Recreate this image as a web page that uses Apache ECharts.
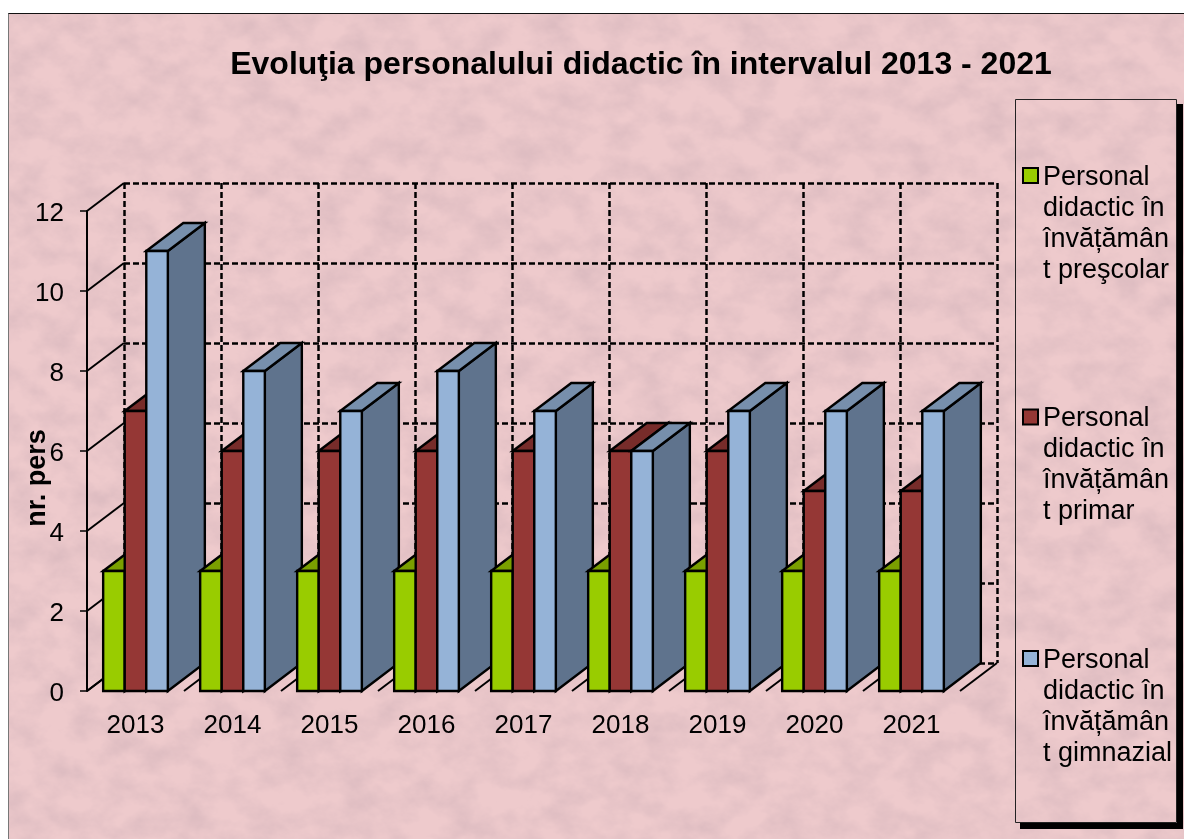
<!DOCTYPE html>
<html lang="ro" style="height: 100%">
<head>
    <meta charset="utf-8">
    <style>
        html, body { margin: 0; height: 100%; background: #fff; overflow: hidden; }
        #paper { position: absolute; left: 8px; top: 13px; width: 1176px; height: 826px; display: block; }
        #edge { position: absolute; left: 8px; top: 13px; right: 0; bottom: 0; border-left: 1px solid #777; border-top: 1px solid #111; }
        #container { position: absolute; left: 0; top: 0; width: 1184px; height: 839px; }
    </style>
</head>
<body>
<!-- marble paper behind the chart -->
<svg id="paper" xmlns="http://www.w3.org/2000/svg">
    <filter id="marble" x="0" y="0" width="100%" height="100%">
        <feTurbulence type="fractalNoise" baseFrequency="0.03 0.04" numOctaves="5" seed="7"/>
        <feColorMatrix type="matrix" values="0 0 0 0 0.72  0 0 0 0 0.50  0 0 0 0 0.53  1.8 0 0 0 -0.62"/>
    </filter>
    <rect width="100%" height="100%" fill="#eecacc"/>
    <rect width="100%" height="100%" filter="url(#marble)"/>
</svg>
<div id="edge"></div>
<div id="container"></div>

<script type="text/javascript" src="https://fastly.jsdelivr.net/npm/echarts@6/dist/echarts.min.js"></script>
<script type="text/javascript">
    var titleText = 'Evoluţia personalului didactic în intervalul 2013 - 2021';
    var yAxisName = 'nr. pers';
    var years = ['2013', '2014', '2015', '2016', '2017', '2018', '2019', '2020', '2021'];
    var yTicks = [0, 2, 4, 6, 8, 10, 12];
    var boundaries = [0, 1, 2, 3, 4, 5, 6, 7, 8, 9];

    var preschool = [3, 3, 3, 3, 3, 3, 3, 3, 3];
    var primary = [7, 6, 6, 6, 6, 6, 6, 5, 5];
    var middle = [11, 8, 7, 8, 7, 6, 7, 7, 7];

    var seriesNames = [
        'Personal didactic în învățământ preşcolar',
        'Personal didactic în învățământ primar',
        'Personal didactic în învățământ gimnazial'
    ];
    var legendLabels = [
        'Personal\ndidactic în\nînvățămân\nt preşcolar',
        'Personal\ndidactic în\nînvățămân\nt primar',
        'Personal\ndidactic în\nînvățămân\nt gimnazial'
    ];
    var faceColors = [
        { front: '#99CC00', top: '#7A9F00', side: '#648200' },
        { front: '#953735', top: '#772C2A', side: '#5F2322' },
        { front: '#95B3D7', top: '#778FAC', side: '#5F738D' }
    ];

    // the 3D look: how far the back wall is pushed away from the front plane
    var DEPTH_X = 37;
    var DEPTH_Y = -28;

    var dom = document.getElementById('container');
    var myChart = echarts.init(dom, null, { renderer: 'canvas' });

    function face(points, fill, z2) {
        return {
            type: 'polygon',
            z2: z2,
            shape: { points: points },
            style: { fill: fill, stroke: '#000', lineWidth: 2.4, lineJoin: 'miter' }
        };
    }

    function barRenderer(seriesIndex) {
        return function (params, api) {
            var cat = api.value(0);
            var band = api.size([1, 0])[0];
            var w = band / 4.5;
            var c = api.coord([cat, api.value(1)]);
            var base = api.coord([cat, 0])[1];
            var x0 = c[0] - 1.5 * w + seriesIndex * w;
            var x1 = x0 + w;
            var y = c[1];
            var z2 = cat * 10 + seriesIndex * 3;
            var col = faceColors[seriesIndex];
            return {
                type: 'group',
                children: [
                    face([[x1, y], [x1 + DEPTH_X, y + DEPTH_Y], [x1 + DEPTH_X, base + DEPTH_Y], [x1, base]], col.side, z2),
                    face([[x0, y], [x0 + DEPTH_X, y + DEPTH_Y], [x1 + DEPTH_X, y + DEPTH_Y], [x1, y]], col.top, z2 + 1),
                    face([[x0, y], [x1, y], [x1, base], [x0, base]], col.front, z2 + 2)
                ]
            };
        };
    }

    function slant(x, y) {
        return {
            type: 'line',
            shape: { x1: x, y1: y, x2: x + DEPTH_X, y2: y + DEPTH_Y },
            style: { stroke: '#000', lineWidth: 2 }
        };
    }

    // left wall lines, from each y tick to the back wall
    function wallRenderer(params, api) {
        var band = api.size([1, 0])[0];
        var c = api.coord([0, api.value(0)]);
        return slant(c[0] - band / 2, c[1]);
    }

    // floor lines at the category boundaries
    function floorRenderer(params, api) {
        var band = api.size([1, 0])[0];
        var c = api.coord([0, 0]);
        return slant(c[0] - band / 2 + api.value(0) * band, c[1]);
    }

    function legendGraphics() {
        var out = [
            { type: 'rect', shape: { x: 1177, y: 104, width: 6, height: 725 }, style: { fill: '#000' } },
            { type: 'rect', shape: { x: 1020, y: 823, width: 163, height: 6 }, style: { fill: '#000' } },
            { type: 'rect', shape: { x: 1015.5, y: 99.5, width: 161, height: 723 }, style: { fill: 'transparent', stroke: '#222', lineWidth: 1 } }
        ];
        var markerTops = [168, 409.5, 651];
        legendLabels.forEach(function (label, i) {
            out.push({
                type: 'rect',
                shape: { x: 1023, y: markerTops[i], width: 15, height: 15 },
                style: { fill: faceColors[i].front, stroke: '#000', lineWidth: 2 }
            });
            out.push({
                type: 'text',
                x: 1043,
                y: markerTops[i] - 6,
                style: {
                    text: label,
                    fill: '#000',
                    font: '27px "Liberation Sans"',
                    lineHeight: 31,
                    verticalAlign: 'top'
                }
            });
        });
        return out;
    }

    var option = {
        backgroundColor: 'transparent',
        animation: false,
        textStyle: { fontFamily: 'Liberation Sans' },
        title: {
            text: titleText,
            left: 636,
            top: 44,
            textAlign: 'center',
            textStyle: { fontFamily: 'Liberation Sans', fontWeight: 'bold', fontSize: 32, color: '#000' }
        },
        grid: [
            { left: 87, top: 211, width: 873, height: 480, outerBoundsMode: 'none' },
            { left: 124, top: 183, width: 873, height: 480, outerBoundsMode: 'none' }
        ],
        xAxis: [
            {
                type: 'category',
                gridIndex: 0,
                data: years,
                axisLine: { show: false },
                axisTick: { show: false },
                axisLabel: { interval: 0, margin: 22, fontSize: 26, color: '#000' }
            },
            {
                type: 'category',
                gridIndex: 1,
                data: years,
                axisLine: { show: false },
                axisTick: { show: false },
                axisLabel: { show: false },
                splitLine: {
                    show: true,
                    interval: 0,
                    lineStyle: { color: '#000', width: 2.5, type: [6, 3] }
                }
            }
        ],
        yAxis: [
            {
                type: 'value',
                gridIndex: 0,
                min: 0,
                max: 12,
                interval: 2,
                name: yAxisName,
                nameLocation: 'middle',
                nameGap: 36,
                nameMoveOverlap: false,
                nameTextStyle: { fontSize: 27, fontWeight: 'bold', color: '#000', padding: [0, 54, 0, 0] },
                axisLine: { show: true, lineStyle: { color: '#000', width: 2 } },
                axisTick: { show: true, length: 7, lineStyle: { color: '#000', width: 1.5 } },
                axisLabel: { margin: 23, fontSize: 26, color: '#000', verticalAlign: 'top', lineHeight: 6 },
                splitLine: { show: false }
            },
            {
                type: 'value',
                gridIndex: 1,
                min: 0,
                max: 12,
                interval: 2,
                axisLine: { show: false },
                axisTick: { show: false },
                axisLabel: { show: false },
                splitLine: { show: true, lineStyle: { color: '#000', width: 2.5, type: [6, 3] } }
            }
        ],
        graphic: legendGraphics(),
        series: [
            { type: 'custom', name: 'wall', xAxisIndex: 0, yAxisIndex: 0, silent: true, renderItem: wallRenderer, data: yTicks.map(function (v) { return [v]; }), encode: { y: 0 } },
            { type: 'custom', name: 'floor', xAxisIndex: 0, yAxisIndex: 0, silent: true, renderItem: floorRenderer, data: boundaries.map(function (v) { return [v]; }) },
            { type: 'custom', name: seriesNames[0], xAxisIndex: 0, yAxisIndex: 0, renderItem: barRenderer(0), data: preschool.map(function (v, i) { return [i, v]; }), encode: { x: 0, y: 1 } },
            { type: 'custom', name: seriesNames[1], xAxisIndex: 0, yAxisIndex: 0, renderItem: barRenderer(1), data: primary.map(function (v, i) { return [i, v]; }), encode: { x: 0, y: 1 } },
            { type: 'custom', name: seriesNames[2], xAxisIndex: 0, yAxisIndex: 0, renderItem: barRenderer(2), data: middle.map(function (v, i) { return [i, v]; }), encode: { x: 0, y: 1 } }
        ]
    };

    myChart.setOption(option);
    window.addEventListener('resize', myChart.resize);
</script>
</body>
</html>
